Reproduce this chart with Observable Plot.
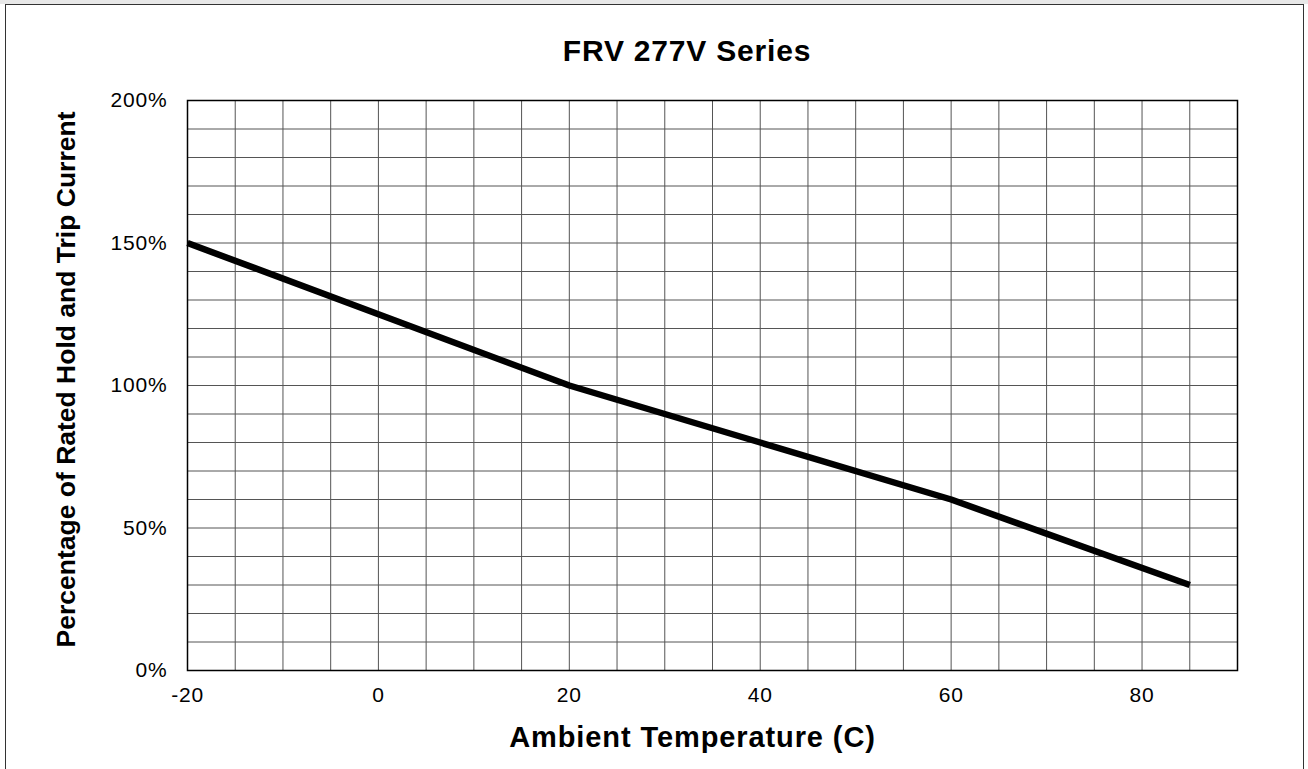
<!DOCTYPE html>
<html>
<head>
<meta charset="utf-8">
<script src="https://cdn.jsdelivr.net/npm/d3@7"></script>
<script src="https://cdn.jsdelivr.net/npm/@observablehq/plot@0.6"></script>
<style>
  html, body { margin: 0; padding: 0; background: #fff; }
  #wrap { position: relative; width: 1308px; height: 769px; overflow: hidden; font-family: "Liberation Sans", Arial, sans-serif; }
  #topstrip { position: absolute; left: 0; top: 0; width: 1308px; height: 4px; background: #e8e8e8; }
  #box { position: absolute; left: 5px; top: 4px; width: 1297px; height: 800px; border: 1.5px solid #333; border-bottom: none; }
  #title { position: absolute; left: 0; top: 34px; width: 1374px; text-align: center; font-weight: bold; font-size: 30px; letter-spacing: 0.8px; color: #000; }
  #chart { position: absolute; left: 0; top: 80px; }
</style>
</head>
<body>
<div id="wrap">
  <div id="topstrip"></div>
  <div id="box"></div>
  <div id="title">FRV 277V Series</div>
  <div id="chart"></div>
</div>
<script>
// Data
const temperature = [-20, 0, 20, 40, 60, 85];
const percentage = [150, 125, 100, 80, 60, 30];
const xTicks = [-20, 0, 20, 40, 60, 80];
const yTicks = [0, 50, 100, 150, 200];
const xGrid = d3.range(-20, 90.001, 5);
const yGrid = d3.range(0, 200.001, 10);
const xLabel = "Ambient Temperature (C)";
const yLabel = "Percentage of Rated Hold and Trip Current";

const data = temperature.map((t, i) => ({t, p: percentage[i]}));

const plot = Plot.plot({
  width: 1308,
  height: 689,
  marginTop: 20,
  marginBottom: 99,
  marginLeft: 187,
  marginRight: 71,
  style: {fontFamily: "Liberation Sans, Arial, sans-serif", background: "transparent"},
  x: {domain: [-20, 90]},
  y: {domain: [0, 200]},
  marks: [
    Plot.ruleX(xGrid, {stroke: "#555", strokeWidth: 1}),
    Plot.ruleY(yGrid, {stroke: "#555", strokeWidth: 1}),
    Plot.frame({stroke: "#000", strokeWidth: 1.5}),
    Plot.axisX({ticks: xTicks, tickSize: 0, tickPadding: 17, tickFormat: d => String(d), fontSize: 21, label: null}),
    Plot.axisY({ticks: yTicks, tickSize: 0, tickPadding: 20, tickFormat: d => d + "%", fontSize: 21, label: null}),
    Plot.line(data, {x: "t", y: "p", stroke: "#000", strokeWidth: 6.5, strokeLinecap: "butt"}),
    Plot.text([xLabel], {text: d => d, frameAnchor: "bottom", textAnchor: "middle", lineAnchor: "middle", dy: 67, dx: -20, fontSize: 29, fontWeight: "bold", fill: "#000"}),
    Plot.text([yLabel], {text: d => d, frameAnchor: "left", textAnchor: "middle", lineAnchor: "middle", rotate: -90, dx: -121, dy: -6, fontSize: 26.5, fontWeight: "bold", fill: "#000"})
  ]
});
document.getElementById("chart").appendChild(plot);
d3.select(plot).selectAll("g[aria-label='x-axis tick label'], g[aria-label='y-axis tick label']").style("letter-spacing", "0.8px").attr("fill", "#000");
d3.select(plot).selectAll("g[aria-label='text']").each(function(d, i) {
  d3.select(this).selectAll("text").style("letter-spacing", i === 0 ? "0.9px" : "0px");
});
</script>
</body>
</html>
